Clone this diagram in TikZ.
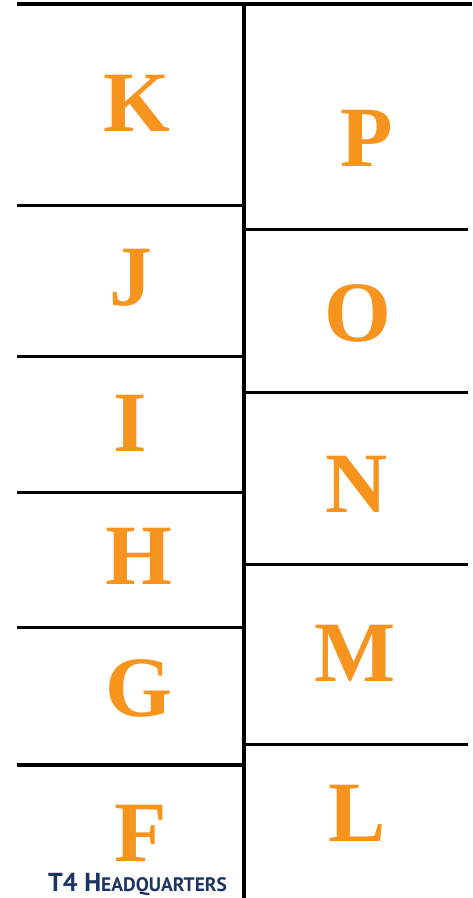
\documentclass[tikz,border=0pt]{standalone}
\usepackage{fontspec}
\setmainfont{Liberation Serif}
\newfontfamily\capfont{PT Sans}
\definecolor{plotorange}{HTML}{F7941D}
\definecolor{hqnavy}{HTML}{1B3461}
\begin{document}
\begin{tikzpicture}[x=1pt,y=-1pt]
    \tikzset{
        plot/.style={font=\fontsize{86}{86}\selectfont\bfseries, text=plotorange, inner sep=0pt},
        wall/.style={draw=black, line width=3pt},
        mainwall/.style={draw=black, line width=3.5pt}
    }
    \useasboundingbox (0,0) rectangle (472,898);

    % outer walls
    \draw[mainwall] (17,4) -- (472,4);
    \draw[mainwall] (244,4) -- (244,898);

    % plot dividers
    \foreach \y in {205,356,492,627}{
        \draw[wall] (17,\y) -- (243,\y);
    }
    \draw[mainwall] (17,765) -- (243,765);
    \foreach \y in {229,392,564,744}{
        \draw[wall] (245,\y) -- (468,\y);
    }

    % plot letters
    \foreach \name/\x/\y in {%
        K/137/103, J/131/278, I/130/423, H/139/556, G/139/688, F/141/833,%
        P/367/138, O/358/313, N/357/484, M/355/653, L/357/813%
    }{
        \node[plot] (plot\name) at (\x,\y) {\name};
    }

    \node[anchor=base west, inner sep=0pt, text=hqnavy,
          font=\capfont\bfseries] (hq) at (48,891)
        {\fontsize{26}{26}\selectfont T4 H\fontsize{19.5}{19.5}\selectfont EADQUARTERS};
\end{tikzpicture}
\end{document}
